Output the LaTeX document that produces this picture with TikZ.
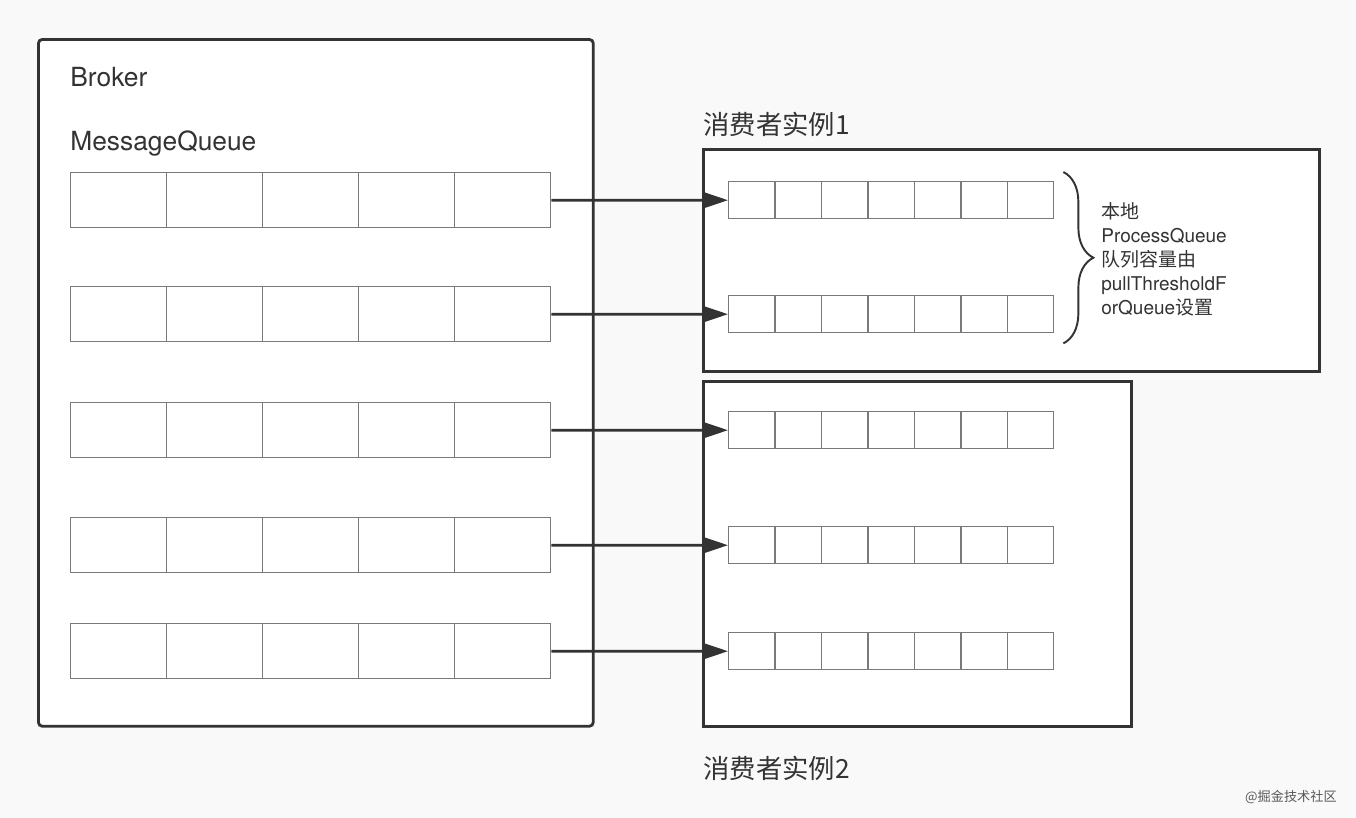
\documentclass[tikz,border=0pt]{standalone}
\usepackage{fontspec}
\setmainfont{TeX Gyre Heros}
\newfontfamily\cjk{Noto Sans CJK SC}
\usepackage{tikz}
\usetikzlibrary{positioning,arrows.meta,decorations.pathreplacing}
\definecolor{inkgray}{HTML}{333333}
\definecolor{cellgray}{HTML}{7A7A7A}
\definecolor{pagebg}{HTML}{F9F9F9}

\begin{document}
\begin{tikzpicture}[
  x=0.02cm, y=-0.02cm,
  frame/.style={
    rectangle, draw=inkgray, line width=1.6pt, fill=white,
    inner sep=0pt, anchor=north west
  },
  mqcell/.style={
    rectangle, draw=cellgray, line width=0.8pt, fill=white,
    minimum width=1.92cm, minimum height=1.1cm,
    inner sep=0pt, anchor=north west
  },
  pqcell/.style={
    rectangle, draw=cellgray, line width=0.8pt, fill=white,
    minimum width=0.928cm, minimum height=0.74cm,
    inner sep=0pt, anchor=north west
  },
  title/.style={anchor=base west, inner sep=0pt, text=inkgray,
    font=\fontsize{15}{18}\selectfont},
  feeds/.style={-{Triangle[length=5mm,width=3.2mm]}, line width=1.5pt, inkgray}
]

% Canvas
\useasboundingbox[fill=pagebg] (0,0) rectangle (1356,818);

% Frames
\node[frame, rounded corners=0.8mm, minimum width=11.1cm, minimum height=13.74cm] (broker) at (37,38) {};
\node[frame, minimum width=12.32cm, minimum height=4.44cm] (consumer1) at (702,148) {};
\node[frame, minimum width=8.56cm, minimum height=6.9cm] (consumer2) at (702,380) {};

% Titles
\node[title] (brokerlbl) at (70,86) {Broker};
\node[title] (mqlbl) at (70,150) {MessageQueue};
\node[title] (c1lbl) at (703,134) {\cjk 消费者实例1};
\node[title] (c2lbl) at (703,778) {\cjk 消费者实例2};

% Queues and pulls
\foreach \r/\my/\py in {1/172/181, 2/286/295, 3/402/411, 4/517/526, 5/623/632} {
  \foreach \c in {1,...,5}
    \node[mqcell] (mq\r-\c) at ({70+96*(\c-1)},\my) {};
  \foreach \c in {1,...,7}
    \node[pqcell] (pq\r-\c) at ({728+46.43*(\c-1)},\py) {};
  \draw[feeds] (mq\r-5.east) -- (pq\r-1.west);
}

% Brace and note
\draw[inkgray, line width=1.1pt, decorate, decoration={brace, amplitude=0.6cm}]
  ([xshift=0.18cm, yshift=0.18cm]pq1-7.north east) -- ([xshift=0.18cm, yshift=-0.2cm]pq2-7.south east);
\node[anchor=west, inner sep=0pt, align=left, text=inkgray,
  font=\fontsize{10.8}{13.66}\selectfont] (note) at (1101,259)
  {{\cjk 本地}\\ProcessQueue\\{\cjk 队列容量由}\\pullThresholdF\\orQueue{\cjk 设置}};

% Watermark
\node[inner sep=0pt, text=black!65, font=\fontsize{7.5}{9}\selectfont] (mark) at (1291,797) {\cjk @掘金技术社区};

\end{tikzpicture}
\end{document}
